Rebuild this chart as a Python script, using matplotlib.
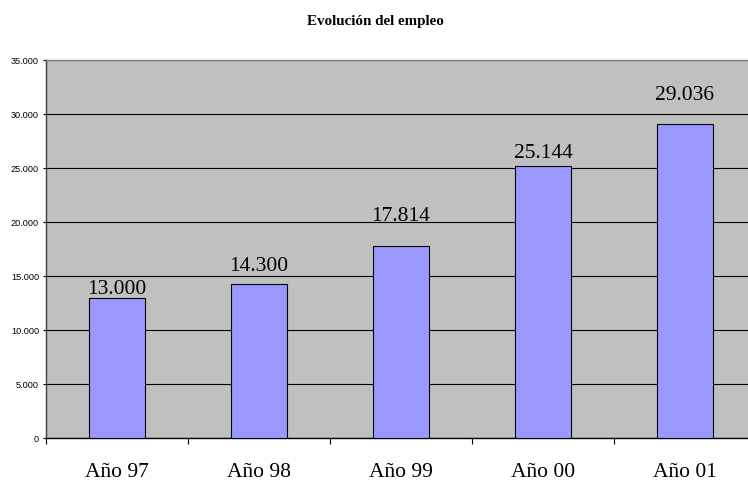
import matplotlib
matplotlib.use("Agg")
import matplotlib.pyplot as plt
from matplotlib.ticker import FixedLocator, FuncFormatter

# data
YEARS = ["Año 97", "Año 98", "Año 99", "Año 00", "Año 01"]
EMPLEO = [13000, 14300, 17814, 25144, 29036]
Y_MAX = 35000
Y_STEP = 5000

# per-bar gap (points) between bar top and label baseline, as in the reference
LABEL_GAP = [3.2, 9.8, 18.6, 7.0, 18.4]

PLOT_BG, BAR_FC, EDGE = "#c0c0c0", "#9999ff", "#000000"
SERIF, SANS = "Liberation Serif", "Liberation Sans"


def miles(v, _pos=None):
    return f"{v:,.0f}".replace(",", ".")


fig = plt.figure(figsize=(7.48, 4.81), dpi=100, facecolor="white")
# plot area runs a little past the right edge of the image, like the original
ax = fig.add_axes([46 / 748, 42 / 481, 710 / 748, 378 / 481], facecolor=PLOT_BG)

x = list(range(len(YEARS)))
ax.bar(x, EMPLEO, width=0.4, color=BAR_FC, edgecolor=EDGE, linewidth=0.8, zorder=3)

for xi, v, gap in zip(x, EMPLEO, LABEL_GAP):
    ax.annotate(miles(v), (xi, v), xytext=(0, gap), textcoords="offset points",
                ha="center", va="baseline", fontsize=15.5, family=SERIF, color="black")

ax.set_xlim(-0.5, len(YEARS) - 0.5)
ax.set_ylim(0, Y_MAX)
ax.yaxis.set_major_locator(FixedLocator(range(0, Y_MAX + 1, Y_STEP)))
ax.yaxis.set_major_formatter(FuncFormatter(miles))
ax.grid(axis="y", color="black", linewidth=0.8, zorder=1)
ax.set_axisbelow(True)

# category boundary ticks, labels at category centres
ax.xaxis.set_major_locator(FixedLocator([i - 0.5 for i in range(len(YEARS) + 1)]))
ax.xaxis.set_major_formatter(FuncFormatter(lambda v, p: ""))
ax.set_xticks(x, YEARS, minor=True)
ax.tick_params(axis="x", which="major", length=4.5, width=0.8, color="black", direction="out")
ax.tick_params(axis="x", which="minor", length=0, pad=17, labelsize=15.5)
for lab in ax.get_xticklabels(minor=True):
    lab.set_family(SERIF)
ax.tick_params(axis="y", length=2, width=0.8, pad=3, labelsize=6.6, colors="black")
for lab in ax.get_yticklabels():
    lab.set_family(SANS)

ax.spines["top"].set_color("#808080")
ax.spines["left"].set_color("#404040")
ax.spines["bottom"].set_color("black")
ax.spines["right"].set_visible(False)
for s in ax.spines.values():
    s.set_linewidth(1.0)

fig.text(375 / 748, 1 - 22 / 481, "Evolución del empleo", ha="center", va="center",
         fontsize=10.8, fontweight="bold", family=SERIF)

fig.savefig("out.png", dpi=100, facecolor="white")
